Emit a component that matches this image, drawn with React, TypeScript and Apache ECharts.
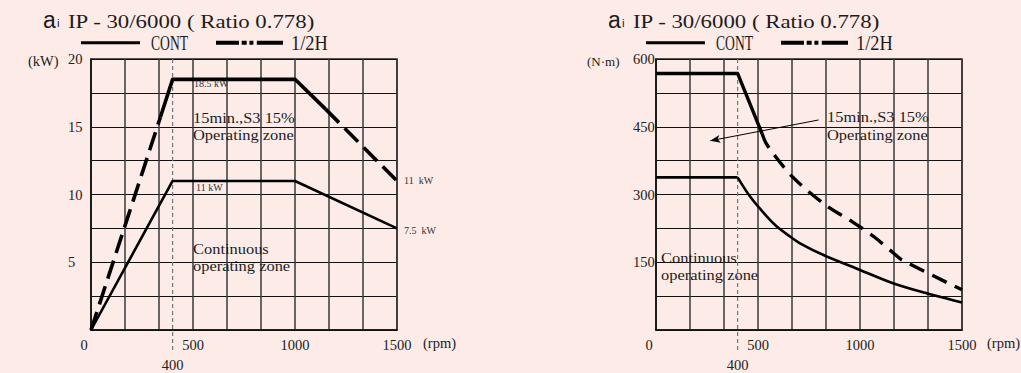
import React, { useEffect, useRef } from "react";
import * as echarts from "echarts";

// ---- data ----
const rpmTicks = [0, 500, 1000, 1500];
const kwTicks = [5, 10, 15, 20];
const nmTicks = [150, 300, 450, 600];
const markerRpm = 400;

const contLeftRpm = [0, 400, 1000, 1500];
const contLeftKw = [0, 11, 11, 7.5];
const halfLeftRpm = [0, 340, 400, 1000, 1150, 1500];
const halfLeftKw = [0, 15.7, 18.5, 18.5, 16.3, 11];

const contRightRpm = [0, 400, 462, 544, 592, 657, 706, 821, 1000, 1165, 1329, 1500];
const contRightNm = [338, 338, 295, 251, 229, 207, 192, 166, 133, 103, 81, 61];
const halfRightRpm = [0, 400, 520, 544, 667, 830, 961, 1067, 1165, 1206, 1500];
const halfRightNm = [568, 568, 435, 410, 340, 277, 240, 207, 170, 155, 89];

const arrowFrom = [797, 465];
const arrowTo = [266, 419];

const titleText = "IP - 30/6000 ( Ratio 0.778)";

// ---- styles ----
const BG = "#FCEBE7";
const SERIF = '"Liberation Serif", "DejaVu Serif", serif';
const SANS = '"Liberation Sans", "DejaVu Sans", sans-serif';
const INK = "#1c1c1c";

function pairs(xs: number[], ys: number[], from: number, to: number) {
  const out: number[][] = [];
  for (let i = from; i <= to; i++) out.push([xs[i], ys[i]]);
  return out;
}

function txt(x: number, y: number, t: string, size: number, family: string, sx = 1, fill = INK, align = "left") {
  return {
    type: "text",
    x,
    y,
    scaleX: sx,
    silent: true,
    z: 10,
    style: {
      text: t,
      fontSize: size,
      fontFamily: family,
      fill,
      textAlign: align,
      textVerticalAlign: "middle",
    },
  };
}

function header(dx: number) {
  return [
    txt(43 + dx, 19.5, "a", 23, SANS),
    txt(57 + dx, 22.5, "i", 11.5, SANS),
    txt(68 + dx, 21.3, titleText, 19.5, SERIF, 1.17),
    {
      type: "line",
      silent: true,
      shape: { x1: 81 + dx, y1: 42.7, x2: 140 + dx, y2: 42.7 },
      style: { stroke: "#000", lineWidth: 3 },
    },
    txt(151 + dx, 43.5, "CONT", 20, SERIF, 0.68),
    {
      type: "line",
      silent: true,
      shape: { x1: 216 + dx, y1: 42.7, x2: 283 + dx, y2: 42.7 },
      style: { stroke: "#000", lineWidth: 4, lineDash: [23, 2.7, 5, 2.7, 4, 3.4, 27, 100] },
    },
    txt(291 + dx, 43.5, "1/2H", 20, SERIF, 0.92),
  ];
}

const ANN = 15.5;
const ANNX = 1.06;

const staticGraphics = [
  ...header(0),
  ...header(565),
  txt(28, 61, "(kW)", 14.5, SERIF),
  txt(587, 61, "(N·m)", 13, SERIF),
  txt(423, 343, "(rpm)", 14.5, SERIF),
  txt(987, 343, "(rpm)", 14.5, SERIF),
  // left annotations
  txt(194, 83.3, "18.5 kW", 10, SERIF, 1, "#333"),
  txt(196, 187.7, "11 kW", 10, SERIF, 1, "#333"),
  txt(404, 180.7, "11  kW", 10, SERIF, 1, "#333"),
  txt(404, 230, "7.5  kW", 10, SERIF, 1, "#333"),
  txt(193, 118, "15min.,S3 15%", ANN, SERIF, ANNX),
  txt(193, 135, "Operating zone", ANN, SERIF, ANNX),
  txt(193, 249, "Continuous", ANN, SERIF, ANNX),
  txt(193, 266, "operating zone", ANN, SERIF, ANNX),
  // right annotations
  txt(827, 117, "15min.,S3 15%", ANN, SERIF, ANNX),
  txt(827, 134.3, "Operating zone", ANN, SERIF, ANNX),
  txt(661, 257.3, "Continuous", ANN, SERIF, ANNX),
  txt(661, 274.3, "operating zone", ANN, SERIF, ANNX),
];

function xAxis(gridIndex: number) {
  return {
    type: "value",
    gridIndex,
    min: 0,
    max: 1500,
    interval: 1500 / 9,
    axisLine: { show: true, onZero: false, lineStyle: { color: "#111", width: 1.5 } },
    axisTick: { show: false },
    splitLine: { show: true, lineStyle: { color: "#3a3a3a", width: 1.5 } },
    axisLabel: {
      margin: 7,
      fontFamily: SERIF,
      fontSize: 14.5,
      color: "#222",
      showMinLabel: true,
      showMaxLabel: true,
      formatter: (v: number) => {
        const r = Math.round(v);
        if (!rpmTicks.includes(r)) return "";
        return r === 0 ? "{z|0}" : String(r);
      },
      rich: { z: { padding: [0, 14, 0, 0], fontFamily: SERIF, fontSize: 14.5, color: "#222" } },
    },
  };
}

function yAxis(gridIndex: number, max: number, interval: number, ticks: number[]) {
  return {
    type: "value",
    gridIndex,
    min: 0,
    max,
    interval,
    axisLine: { show: true, onZero: false, lineStyle: { color: "#111", width: 1.5 } },
    axisTick: { show: false },
    splitLine: { show: true, lineStyle: { color: "#111", width: 1 } },
    axisLabel: {
      align: "left",
      margin: 23,
      fontFamily: SERIF,
      fontSize: 14.5,
      color: "#222",
      showMinLabel: true,
      showMaxLabel: true,
      formatter: (v: number) => (ticks.includes(v) ? String(v) : ""),
    },
  };
}

function line(data: number[][], gi: number, width: number, dash: any = "solid", smooth: any = false, extra: any = {}) {
  return {
    type: "line",
    xAxisIndex: gi,
    yAxisIndex: gi,
    data,
    symbol: "none",
    showSymbol: false,
    smooth,
    silent: true,
    z: 5,
    lineStyle: { color: "#000", width, type: dash, cap: "butt", join: "round" },
    ...extra,
  };
}

const LDASH = [19, 8];
const RDASH = [16, 9];

const option: any = {
  animation: false,
  backgroundColor: BG,
  grid: [
    { left: 91, top: 59, width: 306, height: 271, show: true, borderColor: "#222", borderWidth: 1.5, backgroundColor: "transparent" },
    { left: 656, top: 59, width: 306, height: 271, show: true, borderColor: "#222", borderWidth: 1.5, backgroundColor: "transparent" },
  ],
  xAxis: [xAxis(0), xAxis(1)],
  yAxis: [yAxis(0, 20, 2.5, kwTicks), yAxis(1, 600, 75, nmTicks)],
  series: [
    line(pairs(contLeftRpm, contLeftKw, 0, contLeftRpm.length - 1), 0, 2.6),
    line(pairs(halfLeftRpm, halfLeftKw, 0, 1), 0, 3.6, LDASH),
    line(pairs(halfLeftRpm, halfLeftKw, 1, 4), 0, 3.6),
    line(pairs(halfLeftRpm, halfLeftKw, 4, halfLeftRpm.length - 1), 0, 3.6, LDASH),
    line(pairs(contRightRpm, contRightNm, 0, 1), 1, 2.6),
    line(pairs(contRightRpm, contRightNm, 1, contRightRpm.length - 1), 1, 2.6, "solid", 0.3),
    line(pairs(halfRightRpm, halfRightNm, 0, 2), 1, 3.4),
    line(pairs(halfRightRpm, halfRightNm, 2, halfRightRpm.length - 1), 1, 3.4, RDASH, 0.3, {
      markLine: {
        silent: true,
        animation: false,
        symbol: ["none", "arrow"],
        symbolSize: [6, 10],
        label: { show: false },
        lineStyle: { color: "#000", width: 1, type: "solid" },
        data: [[{ coord: arrowFrom }, { coord: arrowTo }]],
      },
    }),
  ],
};

export default function App() {
  const ref = useRef<HTMLDivElement>(null);
  useEffect(() => {
    if (!ref.current) return;
    const chart = echarts.init(ref.current, null, { renderer: "svg" });
    chart.setOption(option);
    const g: any[] = [...staticGraphics];
    const tops = [20, 600];
    [0, 4].forEach((si, i) => {
      const top = chart.convertToPixel({ seriesIndex: si }, [markerRpm, tops[i]]) as number[];
      const bot = chart.convertToPixel({ seriesIndex: si }, [markerRpm, 0]) as number[];
      g.push({
        type: "line",
        silent: true,
        z: 1,
        shape: { x1: top[0], y1: top[1], x2: bot[0], y2: bot[1] + 22 },
        style: { stroke: "#777", lineWidth: 1.2, lineDash: [4, 3] },
      });
      g.push(txt(bot[0], bot[1] + 35, String(markerRpm), 14.5, SERIF, 1, "#222", "center"));
    });
    chart.setOption({ graphic: g });
    return () => chart.dispose();
  }, []);
  return (
    <div
      ref={ref}
      style={{ position: "fixed", left: 0, top: 0, width: 1021, height: 373, background: BG }}
    />
  );
}
